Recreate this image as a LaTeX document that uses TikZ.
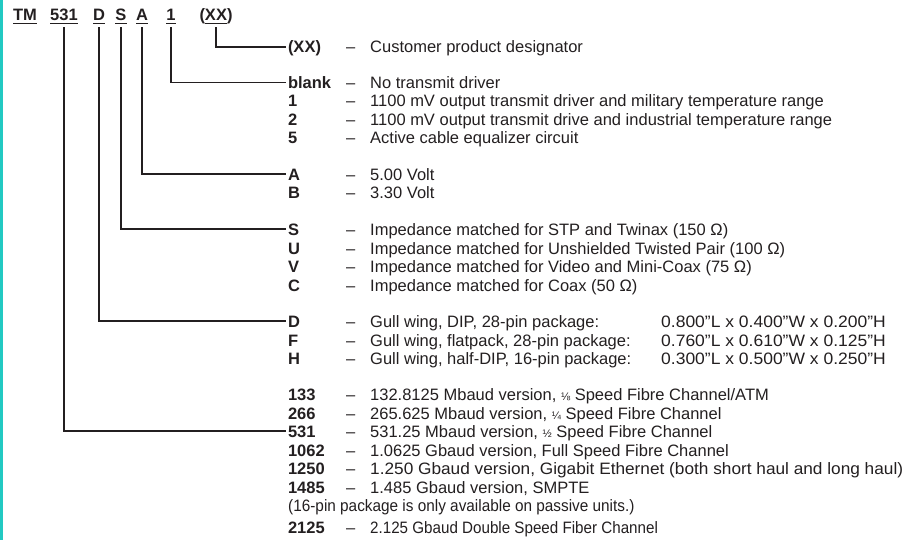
\documentclass[tikz,border=0pt]{standalone}
\usepackage{fontspec}
\setmainfont{Liberation Sans}
\usepackage{xcolor}
\usepackage{graphicx}
\usetikzlibrary{calc}

\definecolor{inkblack}{HTML}{231F20}
\definecolor{edgeteal}{HTML}{22C9C2}
% underline used in the part number
\newcommand\ulbar[1]{\leavevmode\setbox0=\hbox{#1}\rlap{\rule[-3.2pt]{\wd0}{1.5pt}}\box0}
\newcommand\frc[1]{{\fontsize{11}{12}\selectfont #1}}
\newcommand\wide[2]{\scalebox{#1}[1]{#2}}

\begin{document}
\begin{tikzpicture}[x=1pt, y=-1pt, every node/.style={inner sep=0, text=inkblack, font=\fontsize{16.5}{19}\selectfont},
    head/.style={anchor=base, font=\fontsize{16.5}{19}\selectfont\bfseries, text depth=3.2pt, outer ysep=3pt},
    code/.style={anchor=west, font=\fontsize{16.5}{19}\selectfont\bfseries, text height=12pt, text depth=0pt, outer xsep=2pt},
    sep/.style={anchor=west, text height=12pt, text depth=0pt},
    desc/.style={anchor=west, text height=12pt, text depth=0pt},
    lead/.style={draw=inkblack, line width=1.8pt}]
            \useasboundingbox (0,0) rectangle (912,540);
            \fill[edgeteal] (0,0) rectangle (3,540);
            % part number
            \node[head] (hTM) at (25,21) {\ulbar{TM}};
            \node[head] (h531) at (64,21) {\ulbar{531}};
            \node[head] (hD) at (99,21) {\ulbar{D}};
            \node[head] (hS) at (121,21) {\ulbar{S}};
            \node[head] (hA) at (142,21) {\ulbar{A}};
            \node[head] (h1) at (171,21) {\ulbar{1}};
            \node[head] (hXX) at (216,21) {(\ulbar{XX})};
            % customer designator
            \node[code] (cXX) at (286,47) {(XX)};
            \node[sep] at (346,47) {--};
            \node[desc] at (370,47) {Customer product designator};
            % driver
            \node[code] (cBlank) at (286,82.5) {blank};
            \node[sep] at (346,82.5) {--};
            \node[desc] at (370,82.5) {No transmit driver};
            \node[code] (c1) at (286,101) {1};
            \node[sep] at (346,101) {--};
            \node[desc] at (370,101) {1100 mV output transmit driver and military temperature range};
            \node[code] (c2) at (286,119.5) {2};
            \node[sep] at (346,119.5) {--};
            \node[desc] at (370,119.5) {1100 mV output transmit drive and industrial temperature range};
            \node[code] (c5) at (286,138) {5};
            \node[sep] at (346,138) {--};
            \node[desc] at (370,138) {Active cable equalizer circuit};
            % supply
            \node[code] (cA) at (286,174) {A};
            \node[sep] at (346,174) {--};
            \node[desc] at (370,174) {5.00 Volt};
            \node[code] (cB) at (286,192.5) {B};
            \node[sep] at (346,192.5) {--};
            \node[desc] at (370,192.5) {3.30 Volt};
            % impedance
            \node[code] (cS) at (286,229) {S};
            \node[sep] at (346,229) {--};
            \node[desc] at (370,229) {Impedance matched for STP and Twinax (150 Ω)};
            \node[code] (cU) at (286,248) {U};
            \node[sep] at (346,248) {--};
            \node[desc] at (370,248) {Impedance matched for Unshielded Twisted Pair (100 Ω)};
            \node[code] (cV) at (286,266) {V};
            \node[sep] at (346,266) {--};
            \node[desc] at (370,266) {Impedance matched for Video and Mini-Coax (75 Ω)};
            \node[code] (cC) at (286,285) {C};
            \node[sep] at (346,285) {--};
            \node[desc] at (370,285) {Impedance matched for Coax (50 Ω)};
            % package
            \node[code] (cD) at (286,321) {D};
            \node[sep] at (346,321) {--};
            \node[desc] at (370,321) {Gull wing, DIP, 28-pin package:};
            \node[desc] at (661,321) {\wide{1.06}{0.800”L x 0.400”W x 0.200”H}};
            \node[code] (cF) at (286,340) {F};
            \node[sep] at (346,340) {--};
            \node[desc] at (370,340) {Gull wing, flatpack, 28-pin package:};
            \node[desc] at (661,340) {\wide{1.06}{0.760”L x 0.610”W x 0.125”H}};
            \node[code] (cH) at (286,358) {H};
            \node[sep] at (346,358) {--};
            \node[desc] at (370,358) {Gull wing, half-DIP, 16-pin package:};
            \node[desc] at (661,358) {\wide{1.06}{0.300"L x 0.500"W x 0.250"H}};
            % data rate
            \node[code] (c133) at (286,394) {133};
            \node[sep] at (346,394) {--};
            \node[desc] at (370,394) {132.8125 Mbaud version, \frc{⅛} Speed Fibre Channel/ATM};
            \node[code] (c266) at (286,413) {266};
            \node[sep] at (346,413) {--};
            \node[desc] at (370,413) {265.625 Mbaud version, \frc{¼} Speed Fibre Channel};
            \node[code] (c531) at (286,431) {531};
            \node[sep] at (346,431) {--};
            \node[desc] at (370,431) {531.25 Mbaud version, \frc{½} Speed Fibre Channel};
            \node[code] (c1062) at (286,450) {1062};
            \node[sep] at (346,450) {--};
            \node[desc] at (370,450) {1.0625 Gbaud version, Full Speed Fibre Channel};
            \node[code] (c1250) at (286,468.5) {1250};
            \node[sep] at (346,468.5) {--};
            \node[desc] at (370,468.5) {\wide{1.045}{1.250 Gbaud version, Gigabit Ethernet (both short haul and long haul)}};
            \node[code] (c1485) at (286,487) {1485};
            \node[sep] at (346,487) {--};
            \node[desc] at (370,487) {1.485 Gbaud version, SMPTE};
            \node[desc] (note) at (288,505.5) {\wide{0.93}{(16-pin package is only available on passive units.)}};
            \node[code] (c2125) at (286,527) {2125};
            \node[sep] at (346,527) {--};
            \node[desc] at (370,527) {\wide{0.92}{2.125 Gbaud Double Speed Fiber Channel}};
            % leaders
            \draw[lead] (hXX.south) |- (cXX.west);
            \draw[lead] (h1.south) |- (cBlank.west);
            \draw[lead] (hA.south) |- (cA.west);
            \draw[lead] (hS.south) |- (cS.west);
            \draw[lead] (hD.south) |- (cD.west);
            \draw[lead] (h531.south) |- (c531.west);
        \end{tikzpicture}
\end{document}
